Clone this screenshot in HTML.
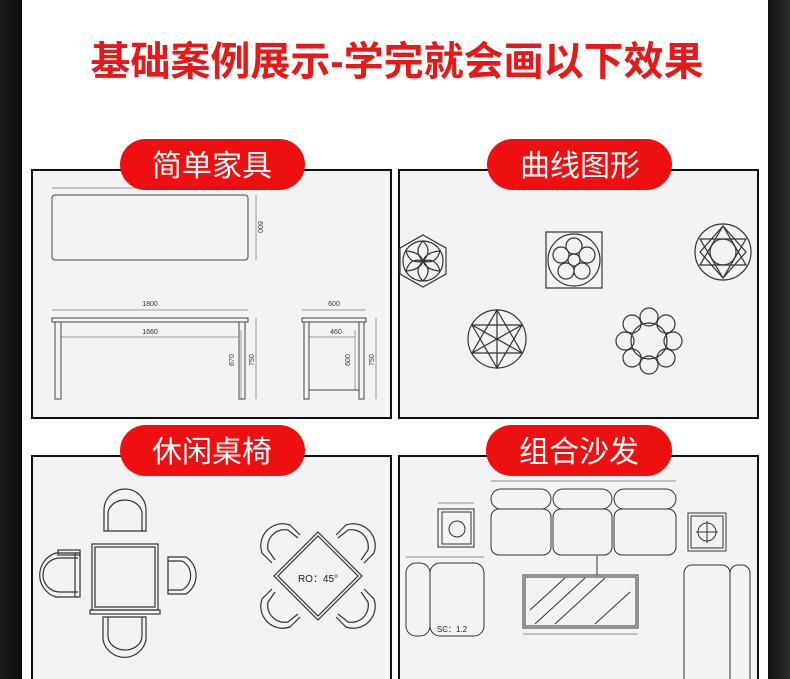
<!DOCTYPE html>
<html><head><meta charset="utf-8"><style>
html,body{margin:0;padding:0;width:790px;height:679px;overflow:hidden;background:#fff}
svg{display:block}
text{font-family:"Liberation Sans","Noto Sans CJK SC",sans-serif}
</style></head><body>
<svg width="790" height="679" viewBox="0 0 790 679" xmlns="http://www.w3.org/2000/svg">
<defs>
<linearGradient id="gl" x1="0" x2="1"><stop offset="0" stop-color="#1a1a1a"/><stop offset="1" stop-color="#0c0c0c"/></linearGradient>
<linearGradient id="gr" x1="0" x2="1"><stop offset="0" stop-color="#111"/><stop offset="1" stop-color="#2e2e2e"/></linearGradient>
</defs>
<rect x="0" y="0" width="22" height="679" fill="url(#gl)"/>
<rect x="768" y="0" width="22" height="679" fill="url(#gr)"/>
<text x="397" y="75" text-anchor="middle" font-size="40" font-weight="bold" fill="#e41a1a">基础案例展示-学完就会画以下效果</text>

<g fill="#f3f3f5" stroke="#111" stroke-width="2">
<rect x="32" y="170" width="359" height="248"/>
<rect x="399" y="170" width="359" height="248"/>
<rect x="32" y="456" width="359" height="240"/>
<rect x="399" y="456" width="359" height="240"/>
</g>
<g fill="#ee1010">
<rect x="120" y="139" width="185" height="51" rx="25.5"/>
<rect x="487" y="139" width="185" height="51" rx="25.5"/>
<rect x="120" y="425" width="185" height="51" rx="25.5"/>
<rect x="486" y="425" width="186" height="51" rx="25.5"/>
</g>
<g fill="#fff" font-size="30" text-anchor="middle">
<text x="212" y="176">简单家具</text>
<text x="580" y="176">曲线图形</text>
<text x="212" y="462">休闲桌椅</text>
<text x="579" y="462">组合沙发</text>
</g>

<!-- simple furniture -->
<g fill="none" stroke="#444" stroke-width="1">
<rect x="52" y="195" width="196" height="65" rx="3"/>
<line x1="52" y1="188" x2="248" y2="188" stroke-width=".5"/>
<line x1="256" y1="195" x2="256" y2="260" stroke-width=".5"/>
<line x1="52" y1="310" x2="248" y2="310" stroke-width=".5"/>
<rect x="52" y="318" width="196" height="4"/>
<rect x="55" y="322" width="6" height="77"/>
<rect x="239" y="322" width="6" height="77"/>
<line x1="61" y1="337" x2="239" y2="337" stroke-width=".5"/>
<line x1="256" y1="318" x2="256" y2="399" stroke-width=".5"/>
<line x1="241" y1="330" x2="241" y2="399" stroke-width=".5"/>
<line x1="302" y1="310" x2="366" y2="310" stroke-width=".5"/>
<rect x="302" y="318" width="64" height="4"/>
<rect x="304" y="322" width="5" height="77"/>
<rect x="359" y="322" width="5" height="77"/>
<line x1="309" y1="390" x2="359" y2="390"/>
<line x1="309" y1="337" x2="355" y2="337" stroke-width=".5"/>
<line x1="355" y1="330" x2="355" y2="390" stroke-width=".5"/>
<line x1="376" y1="318" x2="376" y2="399" stroke-width=".5"/>
</g>
<g font-size="7" fill="#333" text-anchor="middle">
<text x="150" y="306">1800</text><text x="150" y="334">1660</text>
<text x="334" y="306">600</text><text x="336" y="334">460</text>
<text x="258" y="227" transform="rotate(90 258 227)">600</text>
<text x="234" y="360" transform="rotate(-90 234 360)">670</text>
<text x="254" y="360" transform="rotate(-90 254 360)">750</text>
<text x="350" y="360" transform="rotate(-90 350 360)">600</text>
<text x="374" y="360" transform="rotate(-90 374 360)">750</text>
</g>

<!-- curves -->
<g fill="none" stroke="#333" stroke-width="1.2">
<polygon points="423,235 446,248 446,274 423,287 400,274 400,248"/>
<circle cx="423" cy="261" r="20"/>
<path d="M423,241 Q433,251 423,261 Q413,251 423,241 M423,281 Q433,271 423,261 Q413,271 423,281 M406,251 Q420,252 423,261 Q410,265 406,251 M440,251 Q426,252 423,261 Q436,265 440,251 M406,271 Q420,270 423,261 Q410,257 406,271 M440,271 Q426,270 423,261 Q436,257 440,271"/>
<rect x="546" y="232" width="56" height="56"/>
<circle cx="574" cy="260" r="26"/>
<circle cx="574" cy="260" r="6"/>
<circle cx="574" cy="246" r="8"/><circle cx="587" cy="255" r="8"/><circle cx="582" cy="271" r="8"/><circle cx="566" cy="271" r="8"/><circle cx="561" cy="255" r="8"/>
<circle cx="723" cy="252" r="28"/>
<polygon points="723,226 746,265 700,265"/>
<polygon points="723,278 746,239 700,239"/>
<circle cx="723" cy="252" r="13"/>
<polygon points="723,226 746,252 723,278 700,252"/>
<circle cx="497" cy="339" r="29"/>
<polygon points="497,310 522,353 472,353"/>
<polygon points="497,368 522,325 472,325"/>
<path d="M497,310 L497,339 M472,353 L497,339 L522,353 M472,325 L497,339 L522,325 M497,368 L497,339"/>
<circle cx="649" cy="341" r="18"/>
<circle cx="649" cy="317" r="9"/><circle cx="666" cy="324" r="9"/><circle cx="673" cy="341" r="9"/><circle cx="666" cy="358" r="9"/>
<circle cx="649" cy="365" r="9"/><circle cx="632" cy="358" r="9"/><circle cx="625" cy="341" r="9"/><circle cx="632" cy="324" r="9"/>
</g>

<!-- tables & chairs -->
<g fill="none" stroke="#333" stroke-width="1.2">
<rect x="92" y="544" width="66" height="66"/><rect x="95" y="547" width="60" height="60"/>
<rect x="90" y="610" width="70" height="4"/>
<path d="M104,531 V510 A21,21 0 0 1 146,510 V531 Z"/><path d="M108,531 V514 A17,14 0 0 1 142,514 V531"/>
<path d="M103,617 V640 A22,22 0 0 0 146,640 V617 Z"/><path d="M108,617 V636 A17,14 0 0 0 142,636 V617"/>
<path d="M168,557 H186 A22,22 0 0 1 186,594 H168 Z"/><path d="M168,561 H182 A15,16 0 0 1 182,590 H168"/>
<path d="M78,553 H56 A23,23 0 0 0 56,597 H78"/><path d="M78,558 H60 A17,17 0 0 0 60,592 H78"/>
<rect x="75" y="553" width="5" height="44"/>
<rect x="58" y="550" width="22" height="5"/>
<polygon points="318,532 362,576 318,620 274,576"/><polygon points="318,536 358,576 318,616 278,576"/>
<path d="M300,535 L290,525 A22,22 0 0 0 262,553 L272,563"/><path d="M298,538 L288,530 A17,17 0 0 0 268,550 L275,560"/>
<path d="M336,535 L346,525 A22,22 0 0 1 374,553 L364,563"/><path d="M338,538 L348,530 A17,17 0 0 1 368,550 L361,560"/>
<path d="M300,617 L290,627 A22,22 0 0 1 262,599 L272,589"/><path d="M298,614 L288,622 A17,17 0 0 1 268,602 L275,592"/>
<path d="M336,617 L346,627 A22,22 0 0 0 374,599 L364,589"/><path d="M338,614 L348,622 A17,17 0 0 0 368,602 L361,592"/>
</g>
<text x="318" y="582" font-size="10" text-anchor="middle" fill="#222">RO：45°</text>

<!-- sofa -->
<g fill="none" stroke="#333" stroke-width="1">
<rect x="491" y="489" width="60" height="20" rx="10"/><rect x="553" y="489" width="59" height="20" rx="10"/><rect x="614" y="489" width="62" height="20" rx="10"/>
<rect x="491" y="509" width="60" height="46" rx="8"/><rect x="553" y="509" width="59" height="46" rx="8"/><rect x="614" y="509" width="62" height="46" rx="8"/>
<rect x="438" y="509" width="36" height="38"/><rect x="442" y="512" width="29" height="32"/><circle cx="457" cy="529" r="8"/>
<rect x="688" y="513" width="38" height="38"/><rect x="691" y="516" width="32" height="32"/><circle cx="707" cy="532" r="9"/>
<line x1="696" y1="532" x2="718" y2="532"/><line x1="707" y1="521" x2="707" y2="543"/>
<rect x="406" y="563" width="24" height="73" rx="10"/><rect x="430" y="563" width="54" height="73" rx="10"/>
<rect x="523" y="575" width="115" height="53"/><rect x="525" y="577" width="111" height="49"/>
<path d="M530,610 L565,578 M535,624 L585,578 M555,624 L605,578 M595,624 L630,592"/>
<line x1="597" y1="556" x2="597" y2="575"/>
<rect x="684" y="565" width="46" height="130" rx="8"/><rect x="730" y="565" width="20" height="130" rx="8"/>
<line x1="491" y1="481" x2="676" y2="481" stroke-width=".5"/><line x1="438" y1="503" x2="474" y2="503" stroke-width=".5"/>
<line x1="523" y1="634" x2="638" y2="634" stroke-width=".5"/><line x1="406" y1="557" x2="484" y2="557" stroke-width=".5"/>
</g>
<text x="452" y="632" font-size="8" text-anchor="middle" fill="#222">SC：1.2</text>
</svg>
</body></html>
